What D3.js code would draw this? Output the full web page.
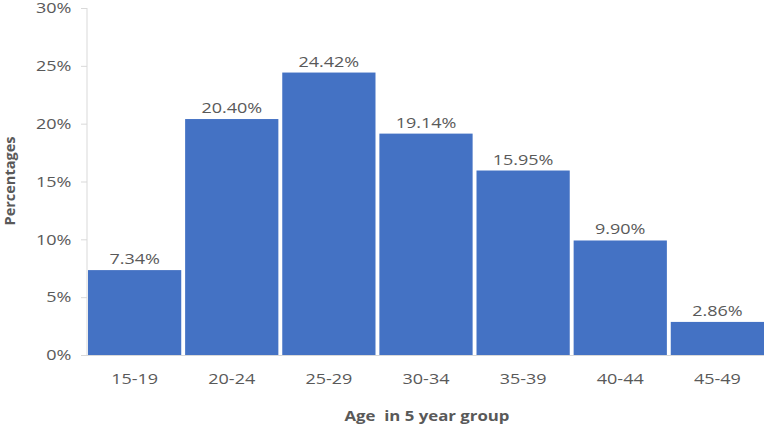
<!DOCTYPE html>
<html>
<head>
<meta charset="utf-8">
<script src="https://cdn.jsdelivr.net/npm/d3@7"></script>
<style>
  body { margin: 0; background: #fff; }
  svg text { font-family: "Open Sans", "Noto Sans", sans-serif; fill: #595959; }
  .axis .domain, .axis line { stroke: #d9d9d9; }
</style>
</head>
<body>
<svg id="chart" width="767" height="426"></svg>
<script>
// data
var ageGroups = ["15-19", "20-24", "25-29", "30-34", "35-39", "40-44", "45-49"];
var percentages = [7.34, 20.40, 24.42, 19.14, 15.95, 9.90, 2.86];
var yTicks = [0, 5, 10, 15, 20, 25, 30];

// the reference text looks a bit stretched sideways
var stretch = "scale(1.2,1)";

var svg = d3.select("#chart");
var margin = {top: 8, right: 3, bottom: 71, left: 88};
var width = 767 - margin.left - margin.right;
var height = 426 - margin.top - margin.bottom;

var g = svg.append("g")
    .attr("transform", "translate(" + margin.left + "," + margin.top + ")");

var x = d3.scaleBand()
    .domain(ageGroups)
    .range([0, width])
    .paddingInner(0.04)
    .paddingOuter(0.0);

var y = d3.scaleLinear()
    .domain([0, 30])
    .range([height, 0]);

var yAxis = d3.axisLeft(y)
    .tickValues(yTicks)
    .tickSize(6)
    .tickPadding(7)
    .tickFormat(function(d) { return d + "%"; });

var yAxisGroup = g.append("g")
    .attr("class", "axis")
    .attr("transform", "translate(-1,0)")
    .call(yAxis);
yAxisGroup.select(".domain").attr("d", "M0," + y(30) + "V" + height);
yAxisGroup.selectAll("text")
    .style("font-size", "15px")
    .attr("transform", stretch);

var bars = g.selectAll(".bar")
    .data(percentages)
  .enter().append("rect")
    .attr("class", "bar")
    .attr("x", function(d, i) { return x(ageGroups[i]); })
    .attr("y", function(d) { return y(d); })
    .attr("width", x.bandwidth())
    .attr("height", function(d) { return height - y(d); })
    .attr("fill", "#4472c4");

var xAxis = d3.axisBottom(x)
    .tickSize(0)
    .tickPadding(18);

var xAxisGroup = g.append("g")
    .attr("class", "axis")
    .attr("transform", "translate(0," + height + ")")
    .call(xAxis);
xAxisGroup.select(".domain").attr("d", "M-7,0.5H" + width);
xAxisGroup.selectAll("text")
    .style("font-size", "15px")
    .attr("transform", stretch);

g.selectAll(".value-label")
    .data(percentages)
  .enter().append("text")
    .attr("class", "value-label")
    .attr("transform", function(d, i) {
      return "translate(" + (x(ageGroups[i]) + x.bandwidth() / 2) + "," + (y(d) - 6) + ") " + stretch;
    })
    .attr("text-anchor", "middle")
    .style("font-size", "15px")
    .text(function(d) { return d.toFixed(2) + "%"; });

svg.append("text")
    .attr("transform", "translate(427,421) " + stretch)
    .attr("text-anchor", "middle")
    .style("font-size", "14px")
    .style("font-weight", "bold")
    .attr("xml:space", "preserve")
    .text("Age  in 5 year group");

svg.append("text")
    .attr("transform", "translate(15,181) rotate(-90)")
    .attr("text-anchor", "middle")
    .style("font-size", "14.5px")
    .style("font-weight", "bold")
    .text("Percentages");
</script>
</body>
</html>
